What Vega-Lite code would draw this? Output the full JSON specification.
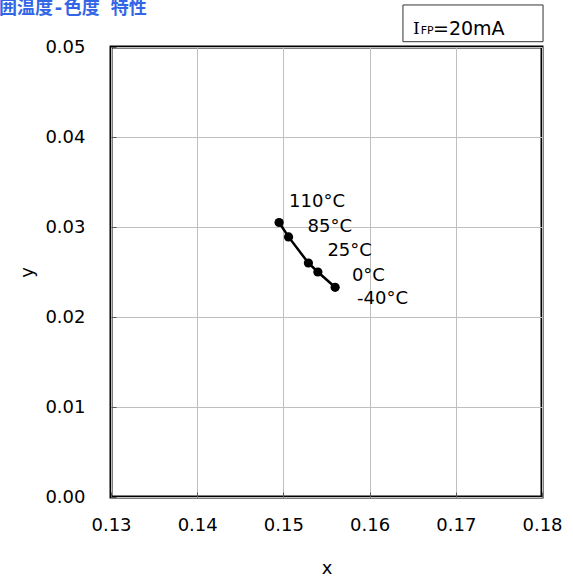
{
  "$schema": "https://vega.github.io/schema/vega-lite/v6.json",
  "width": 431,
  "height": 450,
  "autosize": {"type": "none"},
  "padding": {"left": 111, "top": 47, "right": 31, "bottom": 84},
  "background": "white",
  "title": {
    "text": "周囲温度-色度 特性",
    "anchor": "start",
    "frame": "group",
    "dx": -130,
    "offset": 0,
    "dy": 14,
    "font": "DejaVu Sans Mono, Noto Sans CJK JP",
    "fontSize": 18,
    "fontWeight": "bold",
    "color": "#3366e6"
  },
  "config": {
    "view": {"stroke": "black", "strokeWidth": 3},
    "axis": {
      "grid": true,
      "gridColor": "#bfbfbf",
      "gridWidth": 1,
      "domain": false,
      "ticks": true,
      "tickColor": "#555555",
      "tickSize": -5,
      "labelFlush": false,
      "labelFont": "DejaVu Sans",
      "labelFontSize": 18,
      "labelColor": "black",
      "titleFont": "DejaVu Sans",
      "titleFontSize": 18,
      "titleFontWeight": "normal",
      "titleColor": "black"
    }
  },
  "datasets": {
    "pts": [
      {"x": 0.1495, "y": 0.0305, "t": "110°C"},
      {"x": 0.1506, "y": 0.0289, "t": "85°C"},
      {"x": 0.1529, "y": 0.0260, "t": "25°C"},
      {"x": 0.1540, "y": 0.0250, "t": "0°C"},
      {"x": 0.1560, "y": 0.0233, "t": "-40°C"}
    ]
  },
  "data": {"name": "pts"},
  "encoding": {
    "x": {
      "field": "x",
      "type": "quantitative",
      "title": "x",
      "scale": {"domain": [0.13, 0.18], "nice": false, "zero": false},
      "axis": {"values": [0.13, 0.14, 0.15, 0.16, 0.17, 0.18], "format": ".2f", "labelPadding": 24, "titlePadding": 25}
    },
    "y": {
      "field": "y",
      "type": "quantitative",
      "title": "y",
      "scale": {"domain": [0, 0.05], "nice": false, "zero": false},
      "axis": {"values": [0, 0.01, 0.02, 0.03, 0.04, 0.05], "format": ".2f", "labelPadding": 31, "titlePadding": 8}
    }
  },
  "layer": [
    {"mark": {"type": "line", "color": "black", "strokeWidth": 2.5}},
    {"mark": {"type": "circle", "color": "black", "opacity": 1, "size": 85}},
    {
      "transform": [{"filter": "datum.t === '110°C'"}],
      "mark": {"type": "text", "align": "left", "baseline": "middle", "dx": 10, "dy": -21, "font": "DejaVu Sans", "fontSize": 18, "color": "black"},
      "encoding": {"text": {"field": "t"}}
    },
    {
      "transform": [{"filter": "datum.t === '85°C'"}],
      "mark": {"type": "text", "align": "left", "baseline": "middle", "dx": 19, "dy": -10, "font": "DejaVu Sans", "fontSize": 18, "color": "black"},
      "encoding": {"text": {"field": "t"}}
    },
    {
      "transform": [{"filter": "datum.t === '25°C'"}],
      "mark": {"type": "text", "align": "left", "baseline": "middle", "dx": 19, "dy": -12, "font": "DejaVu Sans", "fontSize": 18, "color": "black"},
      "encoding": {"text": {"field": "t"}}
    },
    {
      "transform": [{"filter": "datum.t === '0°C'"}],
      "mark": {"type": "text", "align": "left", "baseline": "middle", "dx": 34, "dy": 4, "font": "DejaVu Sans", "fontSize": 18, "color": "black"},
      "encoding": {"text": {"field": "t"}}
    },
    {
      "transform": [{"filter": "datum.t === '-40°C'"}],
      "mark": {"type": "text", "align": "left", "baseline": "middle", "dx": 22, "dy": 12, "font": "DejaVu Sans", "fontSize": 18, "color": "black"},
      "encoding": {"text": {"field": "t"}}
    },
    {
      "transform": [{"filter": "datum.t === '110°C'"}],
      "mark": {"type": "rect", "fill": "white", "stroke": "#333333", "strokeWidth": 1, "clip": false},
      "encoding": {
        "x": {"datum": 0.16387},
        "x2": {"datum": 0.18012},
        "y": {"datum": 0.05467},
        "y2": {"datum": 0.05059}
      }
    },
    {
      "transform": [{"filter": "datum.t === '110°C'"}],
      "mark": {"type": "text", "text": "I", "align": "left", "baseline": "middle", "font": "DejaVu Serif", "fontSize": 17, "color": "black", "clip": false},
      "encoding": {
        "x": {"datum": 0.16503},
        "y": {"datum": 0.05202}
      }
    },
    {
      "transform": [{"filter": "datum.t === '110°C'"}],
      "mark": {"type": "text", "text": "FP", "align": "left", "baseline": "middle", "font": "DejaVu Sans", "fontSize": 11, "color": "black", "clip": false},
      "encoding": {
        "x": {"datum": 0.16592},
        "y": {"datum": 0.05175}
      }
    },
    {
      "transform": [{"filter": "datum.t === '110°C'"}],
      "mark": {"type": "text", "text": "=20mA", "align": "left", "baseline": "middle", "font": "DejaVu Sans", "fontSize": 19, "color": "black", "clip": false},
      "encoding": {
        "x": {"datum": 0.16735},
        "y": {"datum": 0.05202}
      }
    }
  ]
}
